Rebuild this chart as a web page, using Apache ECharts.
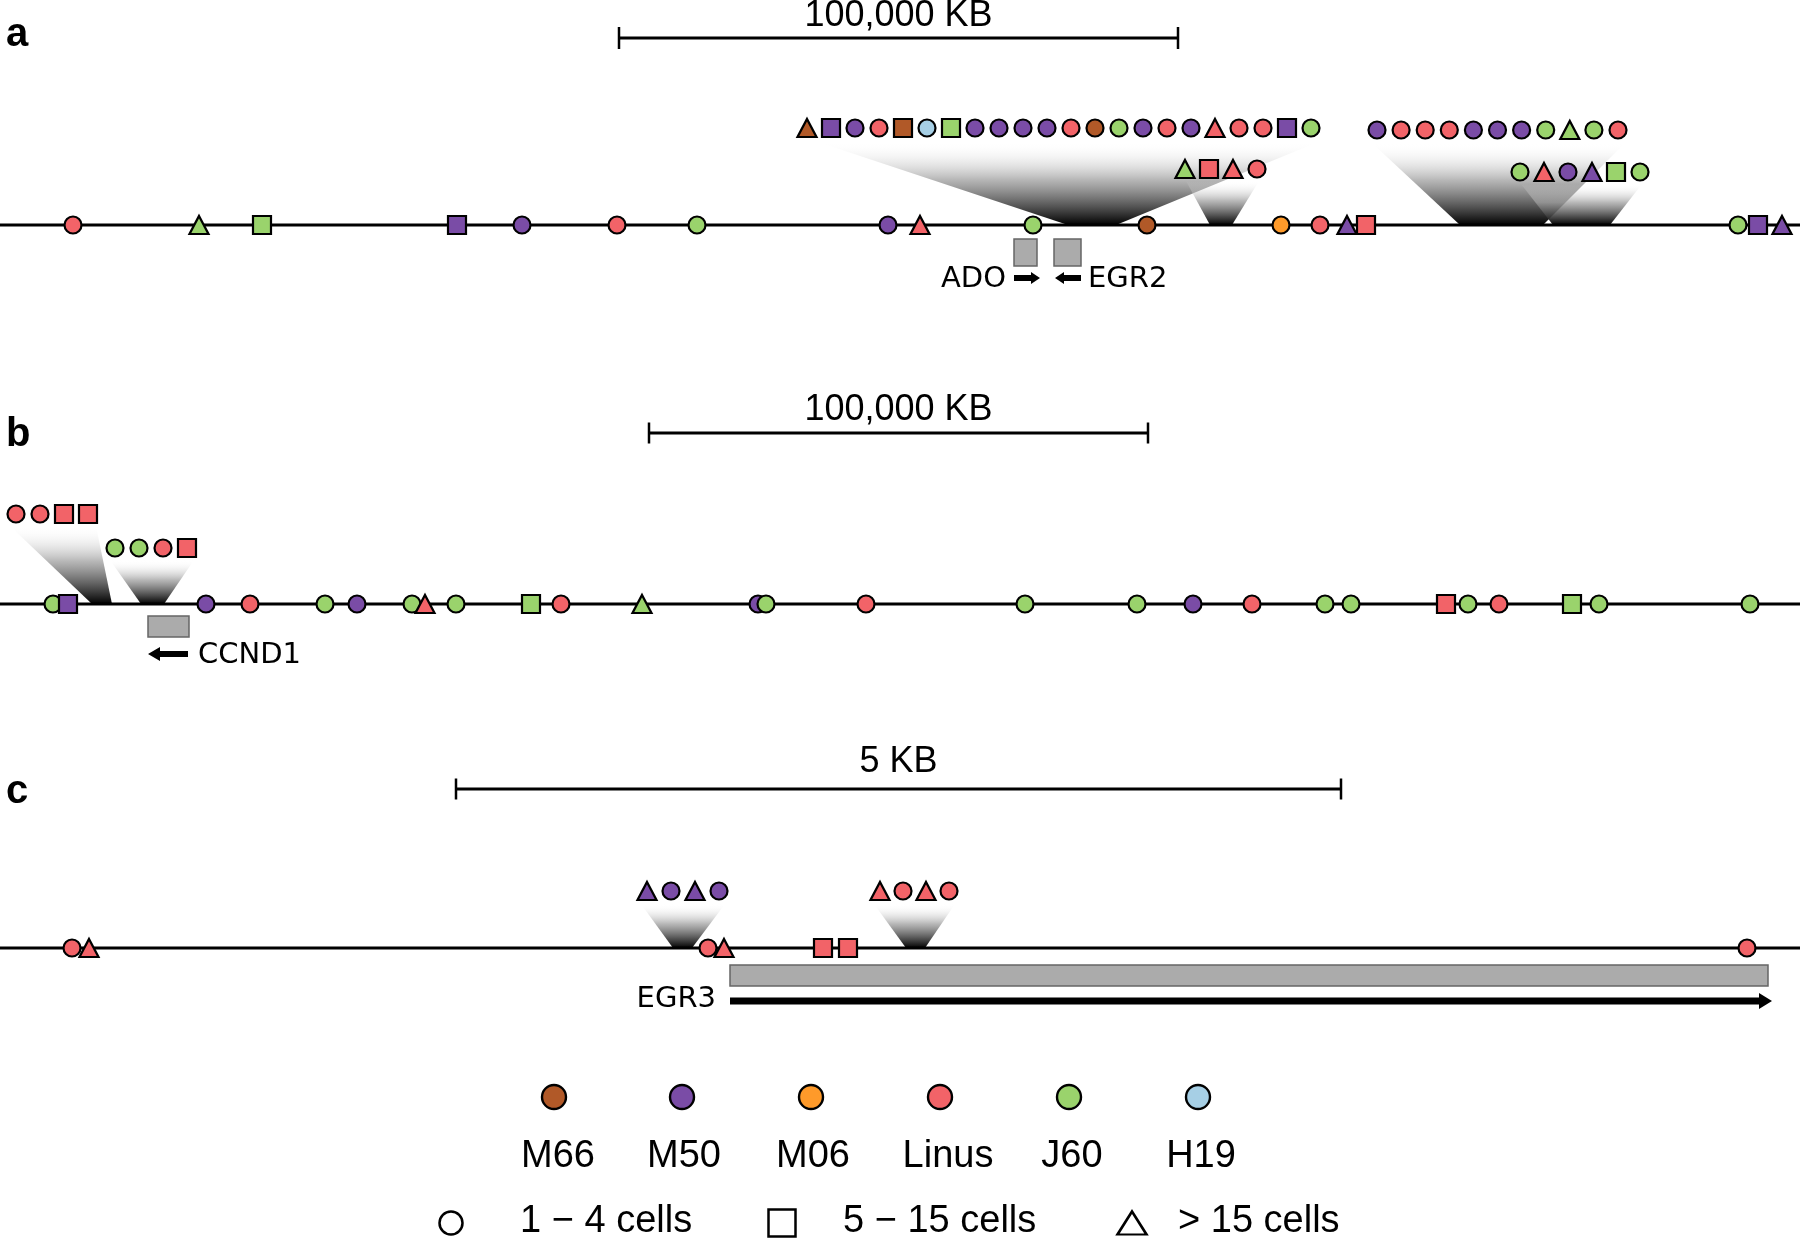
<!DOCTYPE html>
<html><head><meta charset="utf-8">
<script src="https://cdn.jsdelivr.net/npm/echarts@6/dist/echarts.min.js"></script>
<style>html,body{margin:0;padding:0;background:#fff}#c{width:1800px;height:1241px}</style>
</head><body><div id="c"></div>
<script>
// ================= DATA =================
const samples = ['M66', 'M50', 'M06', 'Linus', 'J60', 'H19'];
const sizeClassLabels = ['1 \u2212 4 cells', '5 \u2212 15 cells', '> 15 cells'];
const sizeClassShapes = ['c', 's', 't'];
const panelLetters = ['a', 'b', 'c'];
const scaleLabels = ['100,000 KB', '100,000 KB', '5 KB'];
const scaleBarSpans = [[619, 1178], [649, 1148], [456, 1341]];

// integration sites on each track: [position, size class shape, sample]
const sitesA = [[73,'c','Linus'],[199,'t','J60'],[262,'s','J60'],[457,'s','M50'],[522,'c','M50'],[617,'c','Linus'],
  [697,'c','J60'],[888,'c','M50'],[920,'t','Linus'],[1033,'c','J60'],[1147,'c','M66'],[1281,'c','M06'],
  [1320,'c','Linus'],[1347,'t','M50'],[1366,'s','Linus'],[1738,'c','J60'],[1758,'s','M50'],[1782,'t','M50']];
const sitesB = [[53,'c','J60'],[68,'s','M50'],[206,'c','M50'],[250,'c','Linus'],[325,'c','J60'],[357,'c','M50'],
  [412,'c','J60'],[425,'t','Linus'],[456,'c','J60'],[531,'s','J60'],[561,'c','Linus'],[642,'t','J60'],
  [758,'c','M50'],[766,'c','J60'],[866,'c','Linus'],[1025,'c','J60'],[1137,'c','J60'],[1193,'c','M50'],
  [1252,'c','Linus'],[1325,'c','J60'],[1351,'c','J60'],[1446,'s','Linus'],[1468,'c','J60'],[1499,'c','Linus'],
  [1572,'s','J60'],[1599,'c','J60'],[1750,'c','J60']];
const sitesC = [[72,'c','Linus'],[89,'t','Linus'],[708,'c','Linus'],[724,'t','Linus'],[823,'s','Linus'],
  [848,'s','Linus'],[1747,'c','Linus']];

// clustered sites: site range on the track, members [shape, sample]
const clusterSites = [[1068,1116],[1210,1232],[1460,1543],[1553,1610],[92,112],[141,164],[673,692],[906,925]];
const clusterPanels = [0,0,0,0,1,1,2,2];
const clusterMembers = [
  [['t','M66'],['s','M50'],['c','M50'],['c','Linus'],['s','M66'],['c','H19'],['s','J60'],['c','M50'],['c','M50'],
   ['c','M50'],['c','M50'],['c','Linus'],['c','M66'],['c','J60'],['c','M50'],['c','Linus'],['c','M50'],['t','Linus'],
   ['c','Linus'],['c','Linus'],['s','M50'],['c','J60']],
  [['t','J60'],['s','Linus'],['t','Linus'],['c','Linus']],
  [['c','M50'],['c','Linus'],['c','Linus'],['c','Linus'],['c','M50'],['c','M50'],['c','M50'],['c','J60'],['t','J60'],
   ['c','J60'],['c','Linus']],
  [['c','J60'],['t','Linus'],['c','M50'],['t','M50'],['s','J60'],['c','J60']],
  [['c','Linus'],['c','Linus'],['s','Linus'],['s','Linus']],
  [['c','J60'],['c','J60'],['c','Linus'],['s','Linus']],
  [['t','M50'],['c','M50'],['t','M50'],['c','M50']],
  [['t','Linus'],['c','Linus'],['t','Linus'],['c','Linus']]
];

// genes
const geneNames = ['ADO', 'EGR2', 'CCND1', 'EGR3'];
const geneSpans = [[1014,1037],[1054,1081],[148,189],[730,1768]];
const geneArrowSpans = [[1014,1040],[1055,1081],[148,188],[730,1772]];
const geneStrands = [1, -1, -1, 1];
const genePanels = [0, 0, 1, 2];

// ================= LAYOUT / STYLE =================
const sampleColors = {M66:'#B15928', M50:'#7A4CA6', M06:'#FE9A2A', Linus:'#F26368', J60:'#9AD36C', H19:'#A6CFE5'};
const symMap = {c:'circle', s:'rect', t:'triangle'};
const sizeMap = {c:17, s:18, t:[19,18]};
const trackY = [225, 604, 948];
const letterY = [35, 435, 792];
const scaleY = [38, 433, 789];
const scaleTickH = [11, 10.5, 10.5];
const scaleLabelY = [16, 410, 762];
const geneRectY = [[239,266],[616,637],[965,986]];
const geneArrowY = [278, 654, 1001];
const geneArrowDims = [[3,6,9],[3,6,9],[3,7,12],[3.5,8,13]]; // half shaft, half head, head length
const geneLabelPos = [[1006,279,'right'],[1088,279,'left'],[198,655,'left'],[716,999,'right']];
// cluster row layout: rowY, rowX, step, funnel topY, topL, topR
const clusterLayout = [
  [128, 807, 24, 142, 818, 1318],
  [169, 1185, 24, 181, 1186, 1259],
  [130, 1377, 24.1, 143, 1372, 1625],
  [172, 1520, 24, 184, 1521, 1642],
  [514, 16, 24, 526, 10, 96],
  [548, 115, 24, 560, 110, 194],
  [891, 647, 24, 904, 641, 725],
  [891, 880, 23, 904, 874, 955]
];
const legendColorX = [554, 682, 811, 940, 1069, 1198];
const legendColorY = 1097;
const legendLabelX = [558, 684, 813, 948, 1072, 1201];
const legendLabelY = 1157;
const legendShapeX = [451, 782, 1132];
const legendShapeTextX = [520, 843, 1178];
const legendShapeY = 1223;
const legendShapeSize = {c:23, s:27, t:[29,23]};

const FONT_SANS = '"Liberation Sans", Arial, sans-serif';
const FONT_GENE = '"DejaVu Sans", Verdana, sans-serif';

// ================= BUILD =================
function siteItems(sites, y) {
  return sites.map(([x, shp, s]) => ({
    value: [x, y], symbol: symMap[shp], symbolSize: sizeMap[shp],
    itemStyle: {color: sampleColors[s]}
  }));
}
const trackItems = [].concat(siteItems(sitesA, trackY[0]), siteItems(sitesB, trackY[1]), siteItems(sitesC, trackY[2]));
const clusterItems = [];
clusterMembers.forEach((mem, ci) => {
  const [ry, rx, step] = clusterLayout[ci];
  mem.forEach(([shp, s], k) => {
    clusterItems.push({value: [rx + k * step, ry], symbol: symMap[shp], symbolSize: sizeMap[shp],
      itemStyle: {color: sampleColors[s]}});
  });
});
const legendColorItems = samples.map((s, i) => ({value: [legendColorX[i], legendColorY], symbol: 'circle',
  symbolSize: 24, itemStyle: {color: sampleColors[s]}}));
const legendShapeItems = sizeClassShapes.map((shp, i) => ({value: [legendShapeX[i], legendShapeY],
  symbol: symMap[shp], symbolSize: legendShapeSize[shp], itemStyle: {color: '#fff'}}));

const funnelGrad = {type: 'linear', x: 0, y: 0, x2: 0, y2: 1, colorStops: [
  {offset: 0, color: 'rgba(255,255,255,0)'},
  {offset: 0.45, color: 'rgba(160,160,160,0.75)'},
  {offset: 1, color: 'rgba(0,0,0,1)'}]};

function textEl(api, x, y, text, font, align) {
  const p = api.coord([x, y]);
  return {type: 'text', style: {x: p[0], y: p[1], text: text, font: font, fill: '#000',
    align: align || 'center', verticalAlign: 'middle'}};
}
const markerStyle = {borderColor: '#000', borderWidth: 2.2, opacity: 1};

const chart = echarts.init(document.getElementById('c'));
chart.setOption({
  animation: false,
  backgroundColor: '#fff',
  grid: {left: 0, right: 0, top: 0, bottom: 0},
  xAxis: {type: 'value', min: 0, max: 1800, show: false},
  yAxis: {type: 'value', min: 0, max: 1241, inverse: true, show: false},
  series: [
    { // funnels
      type: 'custom', z: 1, silent: true, clip: false,
      data: clusterSites.map((s, i) => [s[0], trackY[clusterPanels[i]]]),
      renderItem: (params, api) => {
        const i = params.dataIndex, L = clusterLayout[i], s = clusterSites[i], ty = trackY[clusterPanels[i]];
        const pts = [api.coord([L[4], L[3]]), api.coord([L[5], L[3]]), api.coord([s[1], ty]), api.coord([s[0], ty])];
        return {type: 'polygon', shape: {points: pts}, style: {fill: funnelGrad}};
      }
    },
    { // tracks
      type: 'custom', z: 2, silent: true, clip: false,
      data: trackY.map(y => [0, y]),
      renderItem: (params, api) => {
        const y = trackY[params.dataIndex];
        const a = api.coord([0, y]), b = api.coord([1800, y]);
        return {type: 'line', shape: {x1: a[0], y1: a[1], x2: b[0], y2: b[1]}, style: {stroke: '#000', lineWidth: 3}};
      }
    },
    { // scale bars, panel letters
      type: 'custom', z: 2, silent: true, clip: false,
      data: scaleBarSpans.map((s, i) => [s[0], scaleY[i]]),
      renderItem: (params, api) => {
        const i = params.dataIndex, s = scaleBarSpans[i], y = scaleY[i], h = scaleTickH[i];
        const a = api.coord([s[0], y]), b = api.coord([s[1], y]);
        const t1 = api.coord([s[0], y - h]), t2 = api.coord([s[0], y + h]);
        const t3 = api.coord([s[1], y - h]), t4 = api.coord([s[1], y + h]);
        return {type: 'group', children: [
          {type: 'line', shape: {x1: a[0], y1: a[1], x2: b[0], y2: b[1]}, style: {stroke: '#000', lineWidth: 3}},
          {type: 'line', shape: {x1: t1[0], y1: t1[1], x2: t2[0], y2: t2[1]}, style: {stroke: '#000', lineWidth: 2.5}},
          {type: 'line', shape: {x1: t3[0], y1: t3[1], x2: t4[0], y2: t4[1]}, style: {stroke: '#000', lineWidth: 2.5}},
          textEl(api, (s[0] + s[1]) / 2, scaleLabelY[i], scaleLabels[i], '36px ' + FONT_SANS),
          textEl(api, 6, letterY[i], panelLetters[i], 'bold 40px ' + FONT_SANS, 'left')
        ]};
      }
    },
    { // genes
      type: 'custom', z: 2, silent: true, clip: false,
      data: geneSpans.map((s, i) => [s[0], geneRectY[genePanels[i]][0]]),
      renderItem: (params, api) => {
        const i = params.dataIndex, s = geneSpans[i], ry = geneRectY[genePanels[i]];
        const r0 = api.coord([s[0], ry[0]]), r1 = api.coord([s[1], ry[1]]);
        const as = geneArrowSpans[i], ay = geneArrowY[genePanels[i]], d = geneArrowDims[i];
        let x0, x1, dir;
        if (geneStrands[i] > 0) { x0 = as[0]; x1 = as[1]; dir = 1; } else { x0 = as[1]; x1 = as[0]; dir = -1; }
        const pts = [[x0, ay - d[0]], [x1 - dir * d[2], ay - d[0]], [x1 - dir * d[2], ay - d[1]], [x1, ay],
          [x1 - dir * d[2], ay + d[1]], [x1 - dir * d[2], ay + d[0]], [x0, ay + d[0]]].map(p => api.coord(p));
        const lp = geneLabelPos[i];
        return {type: 'group', children: [
          {type: 'rect', shape: {x: r0[0], y: r0[1], width: r1[0] - r0[0], height: r1[1] - r0[1]},
            style: {fill: '#ABABAB', stroke: '#666', lineWidth: 1.5}},
          {type: 'polygon', shape: {points: pts}, style: {fill: '#000'}},
          textEl(api, lp[0], lp[1], geneNames[i], '29px ' + FONT_GENE, lp[2])
        ]};
      }
    },
    { // legend texts
      type: 'custom', z: 2, silent: true, clip: false,
      data: [[0, legendLabelY]],
      renderItem: (params, api) => {
        const ch = [];
        samples.forEach((s, i) => ch.push(textEl(api, legendLabelX[i], legendLabelY, s, '38px ' + FONT_SANS)));
        sizeClassLabels.forEach((t, i) => ch.push(textEl(api, legendShapeTextX[i], legendShapeY - 1, t, '38px ' + FONT_SANS, 'left')));
        return {type: 'group', children: ch};
      }
    },
    {type: 'scatter', z: 3, silent: true, data: trackItems, itemStyle: markerStyle},
    {type: 'scatter', z: 3, silent: true, data: clusterItems, itemStyle: markerStyle},
    {type: 'scatter', z: 3, silent: true, data: legendColorItems, itemStyle: {borderColor: '#000', borderWidth: 2.4, opacity: 1}},
    {type: 'scatter', z: 3, silent: true, data: legendShapeItems, itemStyle: {borderColor: '#000', borderWidth: 2.5, opacity: 1}}
  ]
});
</script></body></html>
